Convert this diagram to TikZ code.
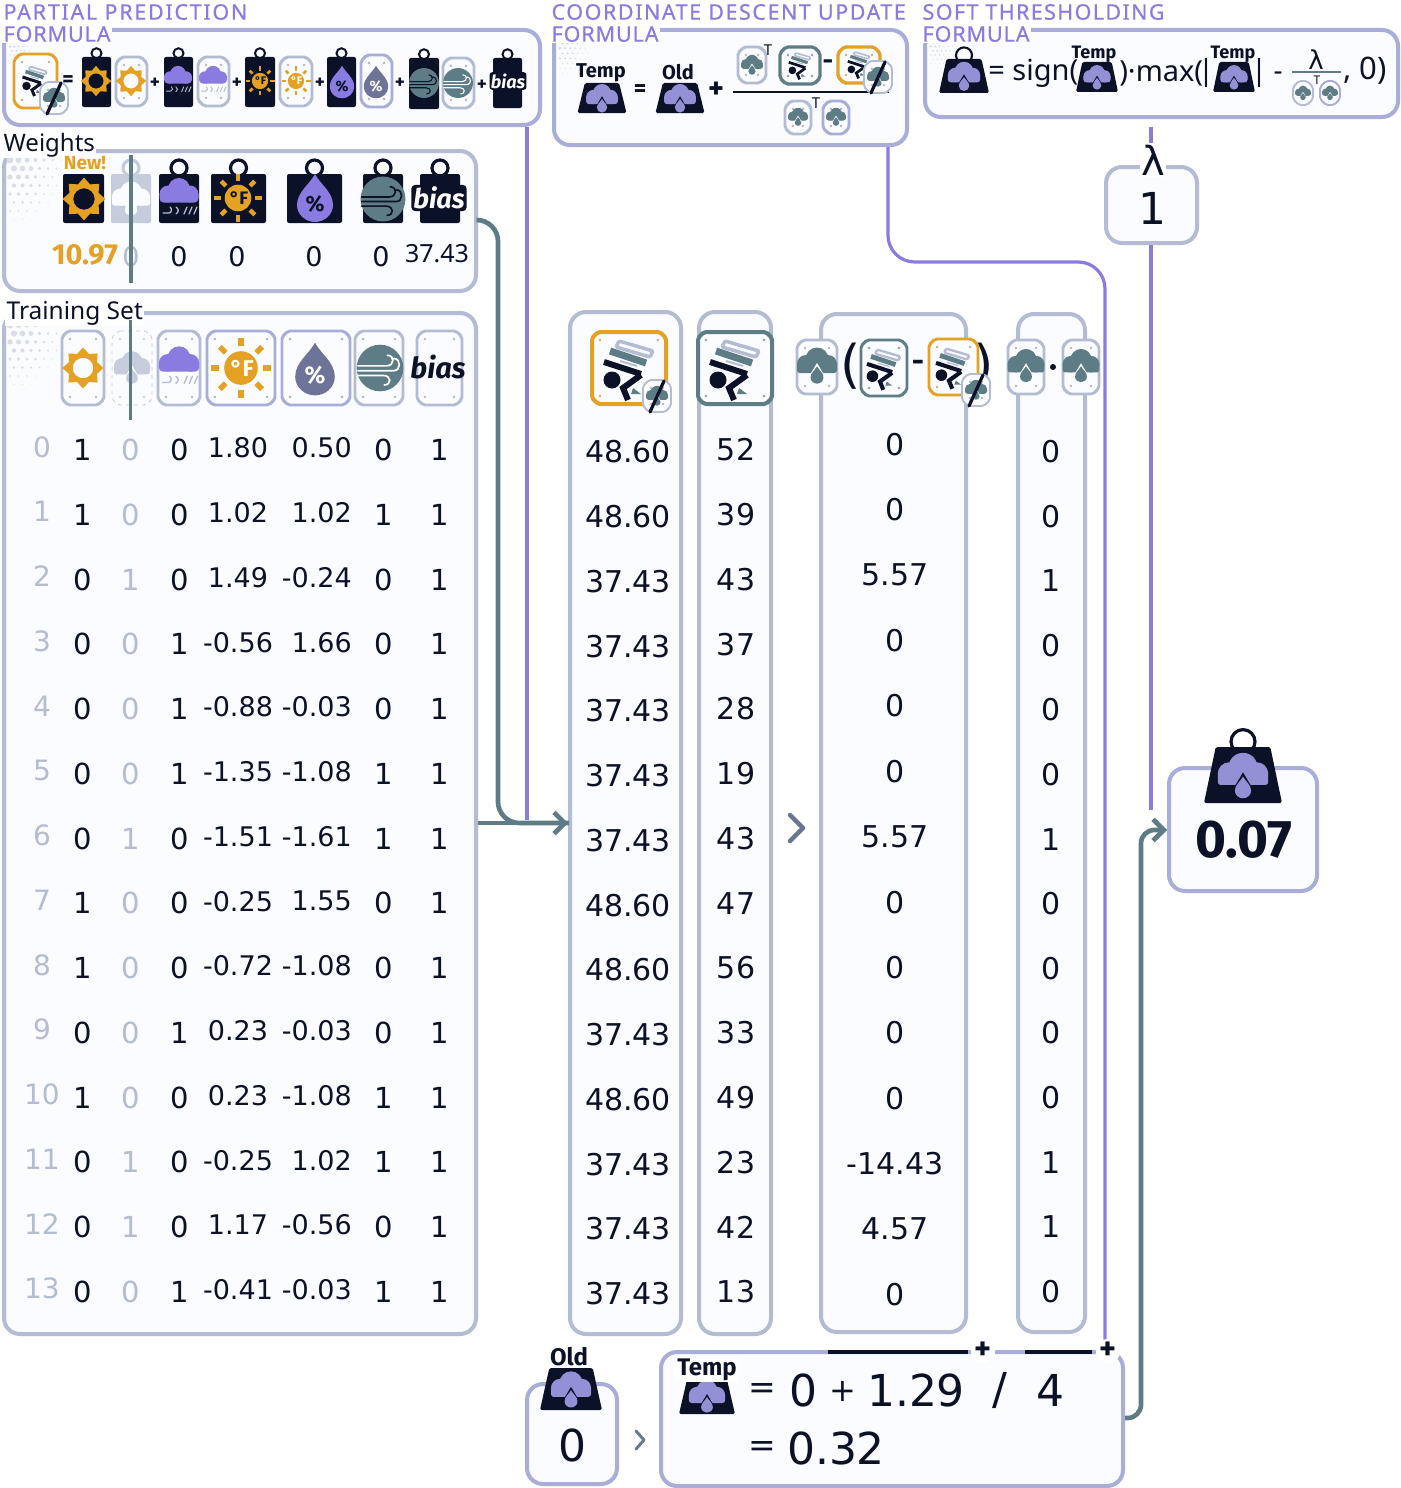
\documentclass[tikz,border=0pt]{standalone}
\usepackage{fontspec}
\setmainfont{Noto Sans}
\newfontfamily\numf{DejaVu Sans}
\newfontfamily\boldf{Fira Sans}
\newfontfamily\titlef[FakeBold=0.5]{Noto Sans}
\usetikzlibrary{arrows.meta}
\definecolor{ink}{HTML}{0B1126}
\definecolor{grey}{HTML}{B4BCD4}
\definecolor{pgrey}{HTML}{A8AED8}
\definecolor{purp}{HTML}{8A7BE0}
\definecolor{teal}{HTML}{5E7C85}
\definecolor{org}{HTML}{E5A124}
\definecolor{paper}{HTML}{FBFCFF}
\definecolor{slatep}{HTML}{6E7398}
\definecolor{faded}{HTML}{C7CCDC}
\definecolor{halft}{HTML}{DADEEA}
\definecolor{cloudc}{HTML}{9490D6}
\newcommand{\fs}[1]{\fontsize{\fpeval{#1*0.75}}{\fpeval{#1*0.9}}\selectfont}
\tikzset{
  x=0.75pt,y=-0.75pt,
  panelbox/.style={draw=#1,fill=paper,line width=3pt,rounded corners=12pt,inner sep=0pt},
  num/.style={font=\numf\fs{#1},text=ink,inner sep=0pt},
  lab/.style={font=\fs{#1},text=ink,inner sep=1pt},
  bld/.style={font=\boldf\bfseries\fs{#1},text=ink,inner sep=0pt},
  ttl/.style={font=\titlef\addfontfeature{LetterSpace=#1}\fs{21.5},text=purp,fill=white,inner sep=1pt,anchor=west},
  conP/.style={draw=purp,line width=2.4pt},
  conT/.style={draw=teal,line width=3.5pt,rounded corners=14pt},
  tipT/.style={-{Straight Barb[length=8pt,width=16pt,line width=3.5pt]}},
}
% panel as a named node given by its corners
\newcommand{\panel}[6]{\node[panelbox=#6,minimum width=\fpeval{(#4-#2)*0.75}pt,minimum height=\fpeval{(#5-#3)*0.75}pt] (#1) at ({(#2+#4)/2},{(#3+#5)/2}) {};}
% small shapes
\newcommand{\cardbox}[6][]{%
  \pgfmathsetmacro\ca{#2}\pgfmathsetmacro\cb{#3}\pgfmathsetmacro\cc{#4}\pgfmathsetmacro\cd{#5}%
  \fill[paper,draw=#6,line width=2.2pt,rounded corners=1.5pt,#1]
    (\ca+6,\cb)--(\cc-6,\cb)--(\cc,\cb+6)--(\cc,\cd-6)--(\cc-6,\cd)--(\ca+6,\cd)--(\ca,\cd-6)--(\ca,\cb+6)--cycle;
  \fill[#6!70!ink!60] (\ca+8,\cb+8) circle (1.1pt) (\cc-8,\cb+8) circle (1.1pt) (\ca+8,\cd-8) circle (1.1pt) (\cc-8,\cd-8) circle (1.1pt);
}
\newcommand{\tagbox}[6]{%
  \draw[#5,line width={#6*0.3pt}] ({(#1+#3)/2},{#2-#6*0.75}) circle ({#6*0.75pt});
  \fill[#5,rounded corners=1.5pt] (#1,#2) rectangle (#3,#4);
}
\newcommand{\icSun}[4]{\begin{scope}[shift={(#1,#2)},scale=#3]
  \fill[#4,even odd rule] (0:21)--(22.5:15.5)--(45:21)--(67.5:15.5)--(90:21)--(112.5:15.5)--(135:21)--(157.5:15.5)--(180:21)--(202.5:15.5)--(225:21)--(247.5:15.5)--(270:21)--(292.5:15.5)--(315:21)--(337.5:15.5)--cycle (0,0) circle (10.5);
\end{scope}}
\newcommand{\icRain}[5]{\begin{scope}[shift={(#1,#2)},scale=#3]
  \pgfmathsetmacro\sc{#3}
  \fill[#4] (-11,-5) circle (8.5) (0,-10) circle (11) (11,-5) circle (8.5);
  \fill[#4,rounded corners=3pt] (-19.5,-8) rectangle (19.5,3.5);
  \draw[#5,line width={1.3*\sc*0.75pt},line cap=round] (-16,14)--(-10,14) .. controls (-7,14) and (-7,9) .. (-9,8) (-3,8) .. controls (0,10) and (0,13) .. (-3,15) (5,15)--(8,8) (10,15)--(13,8) (15,15)--(18,8);
\end{scope}}
\newcommand{\icTemp}[5]{\begin{scope}[shift={(#1,#2)},scale=#3]
  \pgfmathsetmacro\sc{#3}
  \fill[#4] (0,0) circle (14);
  \foreach \an in {0,45,...,315}{\draw[#4,line width={4.5*\sc*0.75pt}] (\an:18)--(\an:25);}
  \node[font=\boldf\bfseries\fs{\fpeval{19*#3}},text=#5,inner sep=0pt] (tf) at (1,0) {°F};
\end{scope}}
\newcommand{\dropath}{(0,-24) .. controls (5,-14) and (18,-6) .. (18,7) .. controls (18,17) and (9,24) .. (0,24) .. controls (-9,24) and (-18,17) .. (-18,7) .. controls (-18,-6) and (-5,-14) .. (0,-24) -- cycle}
\newcommand{\icDrop}[5]{\begin{scope}[shift={(#1,#2)},scale=#3]
  \fill[#4] \dropath;
  \node[font=\boldf\bfseries\fs{\fpeval{22*#3}},text=#5,inner sep=0pt] (pc) at (0,6) {\%};
\end{scope}}
\newcommand{\icWind}[5]{\begin{scope}[shift={(#1,#2)},scale=#3]
  \pgfmathsetmacro\sc{#3}
  \fill[#4] (0,0) circle (22);
  \draw[#5,line width={1.6*\sc*0.75pt},line cap=round] (-21,-2)--(6,-2) .. controls (14,-2) and (14,-12) .. (7,-12) (-21,2.5)--(13,2.5) .. controls (20,2.5) and (20,-9) .. (13,-9) (-21,7)--(3,7) .. controls (11,7) and (11,16) .. (4,16);
\end{scope}}
\newcommand{\cloudfill}[1]{%
  \fill[#1] (-11,-2) circle (9) (0,-7) circle (11.5) (11,-2) circle (9);
  \fill[#1,rounded corners=2pt] (-20,-5) rectangle (20,7);
}
\newcommand{\icCloud}[4]{\begin{scope}[shift={(#1,#2)},scale=#3]
  \cloudfill{#4}
  \fill[white] (0,-3)--(6.5,8)--(-6.5,8)--cycle;
  \begin{scope}[shift={(0,9)},scale=0.36]\fill[#4] \dropath;\end{scope}
\end{scope}}
\newcommand{\icRobot}[3]{\begin{scope}[shift={(#1,#2)},scale=#3]
  \pgfmathsetmacro\sc{#3}
  \draw[grey,line width={3.5*\sc*0.75pt},rounded corners=1pt] (-10,-27)--(24,-17)--(21,-11)--(-13,-21)--cycle;
  \draw[teal,line width={7*\sc*0.75pt}] (-19,-17)--(17,-5);
  \draw[grey,line width={2*\sc*0.75pt}] (-9,-7)--(8,-2);
  \draw[ink,line width={6*\sc*0.75pt}] (-25,-6)--(12,6) (12,7)--(-6,20)--(-1,32);
  \fill[ink] (-17,12) circle (8.5);
  \fill[teal] (4,20)--(12,26)--(2,26)--cycle;
\end{scope}}
\newcommand{\slashcard}[2]{%
  \cardbox[line width=1.4pt]{#1-14}{#2-16}{#1+14}{#2+16}{grey}
  \icCloud{#1}{#2}{0.55}{teal}
  \draw[ink,line width=2.4pt,line cap=round] (#1+7,#2-15)--(#1-7,#2+16);
}
\newcommand{\wgt}[6]{% cx, top, width, height, ring radius, cloud colour
  \ifdim #5pt>0pt \draw[ink,line width={#5*0.2pt}] (#1,{#2-#5*0.45}) circle ({#5*0.75pt}); \fi
  \fill[ink,rounded corners=1.2pt] ({#1-#3*0.35},#2)--({#1+#3*0.35},#2)--({#1+#3*0.5},{#2+#4})--({#1-#3*0.5},{#2+#4})--cycle;
  \begin{scope}[shift={(#1,{#2+#4*0.52})},scale={#3/62}]
    \cloudfill{#6}
    \fill[ink] (0,-3)--(6.5,8)--(-6.5,8)--cycle;
    \begin{scope}[shift={(0,9)},scale=0.36]\fill[#6] \dropath;\end{scope}
  \end{scope}
}
\newcommand{\halftone}[3]{\begin{scope}[shift={(#1,#2)},scale=#3]
  \foreach \hi in {0,...,6}{\foreach \hj in {0,...,8}{
    \pgfmathsetmacro\hr{2.6*(1-sqrt(\hi*\hi*1.4+\hj*\hj*1.0)/8.5)}
    \ifdim \hr pt>0.3pt \fill[halft] ({\hi*8.5+mod(\hj,2)*4},{\hj*8.5}) circle ({\hr pt}); \fi
  }}
\end{scope}}
\newcommand{\biastxt}[6][]{\node[font=\boldf\bfseries\itshape\fs{#4},text=#5,inner sep=0pt,#1] (#6) at (#2,#3) {bias};}
\begin{document}
\begin{tikzpicture}
\useasboundingbox (0,0) rectangle (1400,1488);
\fill[white] (0,0) rectangle (1400,1488);
% ---------- panels
\panel{pred}{4}{30}{540}{125}{pgrey}
\panel{coord}{554}{30}{907}{145}{pgrey}
\panel{soft}{925}{30}{1398}{117}{pgrey}
\panel{weights}{4}{151}{476}{291}{grey}
\panel{train}{4}{313}{476}{1334}{grey}
\panel{lam}{1106}{167}{1197}{243}{grey}
\panel{col1}{570}{312}{681}{1334}{grey}
\panel{col2}{699}{312}{771}{1334}{grey}
\panel{col3}{821}{314}{966}{1332}{grey}
\panel{col4}{1018}{314}{1085}{1332}{grey}
\panel{result}{1169}{768}{1317}{891}{pgrey}
\panel{old}{527}{1384}{617}{1484}{pgrey}
\panel{tempbox}{661}{1352}{1123}{1486}{pgrey}
% ---------- halftone corners
\halftone{10}{38}{0.5}\halftone{10}{160}{1}\halftone{10}{325}{1}\halftone{560}{38}{0.6}\halftone{931}{38}{0.5}
% ---------- connectors
\coordinate (pe) at (527,820);
\coordinate (arrowin) at (569,823);
\coordinate (cdA) at (888,262);
\coordinate (cdB) at (1105,262);
\coordinate (cdC) at (1105,1345);
\coordinate (lamTop) at (1151,127);
\coordinate (lamEnd) at (1151,810);
\coordinate (wA) at (498,220);
\coordinate (wB) at (498,823);
\coordinate (tA) at (1141,1418);
\coordinate (tB) at (1141,830);
\draw[conP] (pred.south -| pe) -- (pe);
\draw[conP,rounded corners=20pt] (coord.south -| cdA) -- (cdA) -- (cdB) -- (cdC);
\draw[conP] (lamTop) -- (lam.north -| lamTop);
\draw[conP] (lam.south -| lamTop) -- (lamEnd);
\draw[conT,rounded corners=16pt] (weights.east |- wA) -- (wA) -- (wB) -- (arrowin);
\draw[conT,tipT,rounded corners=0pt] (train.east |- arrowin) -- (col1.west |- arrowin);
\draw[conT,tipT,rounded corners=10pt] (tempbox.east |- tA) -- (tA) -- (tB) -- (result.west |- tB);
% ---------- titles
\node[ttl=8] (t1a) at (2,12) {PARTIAL PREDICTION};
\node[ttl=4.2] (t1b) at (2,34) {FORMULA};
\node[ttl=7.2] (t2a) at (550,12) {COORDINATE DESCENT UPDATE};
\node[ttl=4.2] (t2b) at (550,34) {FORMULA};
\node[ttl=6.4] (t3a) at (921,12) {SOFT THRESHOLDING};
\node[ttl=4.2] (t3b) at (921,34) {FORMULA};
\node[lab=24,anchor=west,fill=white] (tw) at (2,145) {Weights};
\node[lab=24.5,anchor=west,fill=white] (tt) at (5,313) {Training Set};
% ---------- partial prediction row
\cardbox{14}{54}{57}{108}{org}
\icRobot{35}{80}{0.5}
\slashcard{54}{98}
\node[bld=22] (eq0) at (68,81) {=};
\tagbox{82}{57}{111}{107}{ink}{5}\icSun{96}{81}{0.72}{org}
\cardbox{116}{57}{147}{106}{grey}\icSun{131}{81}{0.72}{org}
\node[bld=19] (p1) at (155,83) {+};
\tagbox{164}{57}{193}{107}{ink}{5}\icRain{178}{81}{0.72}{purp}{grey}
\cardbox{198}{57}{229}{106}{grey}\icRain{213}{81}{0.72}{purp}{grey}
\node[bld=19] (p2) at (237,83) {+};
\tagbox{245}{57}{275}{107}{ink}{5}\icTemp{260}{81}{0.58}{org}{ink}
\cardbox{280}{57}{312}{106}{grey}\icTemp{296}{81}{0.58}{org}{white}
\node[bld=19] (p3) at (320,83) {+};
\tagbox{327}{57}{356}{107}{ink}{5}\icDrop{342}{82}{0.68}{purp}{ink}
\cardbox{361}{55}{392}{107}{pgrey}\icDrop{376}{82}{0.68}{slatep}{white}
\node[bld=19] (p4) at (400,83) {+};
\tagbox{409}{58}{439}{109}{ink}{5}\icWind{424}{83}{0.68}{teal}{ink}
\cardbox{443}{58}{474}{108}{grey}\icWind{458}{83}{0.68}{teal}{white}
\node[bld=19] (p5) at (482,85) {+};
\tagbox{493}{58}{522}{108}{ink}{5}\biastxt[fill=ink,inner sep=1pt,rounded corners=2pt]{508}{81}{18}{white}{bt0}
% ---------- weights
\tagbox{63}{174}{104}{223}{ink}{0}\icSun{84}{199}{1.02}{org}
\node[font=\boldf\bfseries\fs{19},text=org,inner sep=0pt] (nw) at (85,163) {New!};
\tagbox{111}{174}{151}{223}{faded}{8}\icCloud{131}{199}{0.95}{paper}
\tagbox{159}{174}{199}{223}{ink}{8}\icRain{179}{199}{1}{purp}{grey}
\tagbox{211}{174}{266}{223}{ink}{8}\icTemp{238}{198}{0.95}{org}{ink}
\tagbox{287}{174}{342}{223}{ink}{8}\icDrop{315}{198}{1}{purp}{ink}
\tagbox{363}{174}{403}{223}{ink}{8}\icWind{383}{199}{1.02}{teal}{ink}
\tagbox{420}{174}{460}{223}{ink}{8}\biastxt[fill=ink,inner sep=1.5pt,rounded corners=3pt]{439}{198}{27}{white}{bt1}
\node[font=\boldf\bfseries\fs{29},text=org,inner sep=0pt] (w0) at (85,255) {10.97};
\node[num=27,text=grey] (w1) at (131,257) {0};
\node[num=27] (w2) at (179,257) {0};
\node[num=27] (w3) at (237,257) {0};
\node[num=27] (w4) at (314,257) {0};
\node[num=27] (w5) at (381,257) {0};
\node[font=\fs{25},text=ink,inner sep=0pt] (w6) at (437,254) {37.43};
\draw[teal,line width=2.6pt] (weights.north -| w1) ++(0,6) -- ++(0,128);
% ---------- training header
\cardbox{62}{331}{104}{405}{grey}\icSun{83}{368}{0.98}{org}
\cardbox[draw=faded,line width=0.6pt,dashed]{112}{331}{152}{405}{paper}\icCloud{132}{368}{0.9}{faded}
\cardbox{158}{331}{200}{405}{grey}\icRain{179}{368}{1.03}{purp}{grey}
\cardbox{207}{331}{275}{405}{pgrey}\icTemp{241}{368}{1.2}{org}{white}
\cardbox{282}{331}{350}{405}{pgrey}\icDrop{315}{369}{1.1}{slatep}{white}
\cardbox{355}{331}{403}{405}{grey}\icWind{380}{368}{1.06}{teal}{white}
\cardbox{417}{331}{462}{405}{grey}\biastxt{438}{367}{29}{ink}{bt2}
\coordinate (xbar) at (130.5,320);
\coordinate (xbarend) at (130.5,420);
\draw[teal,line width=2.6pt] (xbar) -- (xbarend);
% ---------- training rows
\foreach \va/\vb/\vc/\vt/\vh/\vw [count=\rw from 0] in {
 1/0/0/1.80/0.50/0, 1/0/0/1.02/1.02/1, 0/1/0/1.49/-0.24/0, 0/0/1/-0.56/1.66/0,
 0/0/1/-0.88/-0.03/0, 0/0/1/-1.35/-1.08/1, 0/1/0/-1.51/-1.61/1, 1/0/0/-0.25/1.55/0,
 1/0/0/-0.72/-1.08/0, 0/0/1/0.23/-0.03/0, 1/0/0/0.23/-1.08/1, 0/1/0/-0.25/1.02/1,
 0/1/0/1.17/-0.56/0, 0/0/1/-0.41/-0.03/1}{
  \pgfmathsetmacro\yy{450+64.75*\rw}
  \node[num=28,text=grey] (id\rw) at (42,\yy-3) {\rw};
  \node[num=29] (a\rw) at (83,\yy) {\va};
  \node[num=29,text=grey] (b\rw) at (131,\yy) {\vb};
  \node[num=29] (c\rw) at (180,\yy) {\vc};
  \node[num=27] (t\rw) at (238,\yy-2) {\vt};
  \node[num=27,anchor=east] (h\rw) at (352,\yy-2) {\vh};
  \node[num=29] (w\rw) at (384,\yy) {\vw};
  \node[num=29] (i\rw) at (440,\yy) {1};
}
% ---------- columns
\foreach \vp/\vy/\vr/\vs [count=\rw from 0] in {
 48.60/52/0/0, 48.60/39/0/0, 37.43/43/5.57/1, 37.43/37/0/0, 37.43/28/0/0, 37.43/19/0/0, 37.43/43/5.57/1,
 48.60/47/0/0, 48.60/56/0/0, 37.43/33/0/0, 48.60/49/0/0, 37.43/23/-14.43/1, 37.43/42/4.57/1, 37.43/13/0/0}{
  \node[num=30] (q\rw) at (628,{452+64.75*\rw}) {\vp};
  \node[num=30] (r\rw) at (736,{450+64.75*\rw}) {\vy};
  \node[num=30] (s\rw) at (895,{444.5+65.38*\rw}) {\vr};
  \node[num=30] (u\rw) at (1051,{451.5+64.6*\rw}) {\vs};
}
% column headers
\cardbox[line width=3pt]{592}{332}{666}{404}{org}\icRobot{629}{368}{1}
\slashcard{657}{396}
\cardbox[line width=3pt]{698}{332}{772}{404}{teal}\icRobot{735}{368}{1}
\cardbox{797}{340}{837}{394}{grey}\icCloud{817}{366}{1}{teal}
\node[font=\numf\fs{52},text=ink,inner sep=0pt] (lp) at (851,366) {(};
\cardbox{861}{340}{907}{396}{teal}\icRobot{884}{368}{0.68}
\node[bld=30] (mn) at (918,366) {-};
\node[font=\numf\fs{52},text=ink,inner sep=0pt] (rp) at (984,366) {)};
\cardbox{929}{339}{978}{395}{org}\icRobot{953}{367}{0.68}
\slashcard{976}{390}
\cardbox{1008}{340}{1044}{394}{grey}\icCloud{1026}{366}{0.92}{teal}
\fill[ink] (1053,367) circle (3);
\cardbox{1063}{340}{1099}{394}{grey}\icCloud{1081}{366}{0.92}{teal}
\draw[line width=3.4pt,draw=slatep!70!teal,line cap=round,line join=round] (790,815)--(803,828)--(790,841);
% ---------- coordinate descent panel
\node[bld=20] (lTemp) at (601,73) {Temp};
\wgt{602}{83}{49}{30}{0}{cloudc}
\node[bld=24] (e2) at (640,91) {=};
\node[bld=20] (lOld) at (678,72) {Old};
\wgt{680}{83}{49}{30}{0}{cloudc}
\node[bld=30] (p6) at (716,90) {+};
\coordinate (fa) at (733,92);\coordinate (fb) at (889,92);
\draw[ink,line width=2pt] (fa)--(fb);
\cardbox{738}{47}{766}{83}{grey}\icCloud{752}{65}{0.55}{teal}
\node[font=\fs{15},text=ink,inner sep=0pt] (T1) at (768,50) {T};
\cardbox[line width=2.4pt]{780}{47}{820}{84}{teal}\icRobot{800}{65}{0.45}
\node[bld=26] (m2) at (828,65) {-};
\cardbox[line width=2.6pt]{838}{47}{880}{83}{org}\icRobot{859}{64}{0.45}
\slashcard{878}{77}
\cardbox{785}{101}{811}{134}{grey}\icCloud{798}{117}{0.5}{teal}
\node[font=\fs{15},text=ink,inner sep=0pt] (T2) at (816,103) {T};
\cardbox{823}{101}{849}{134}{pgrey}\icCloud{836}{117}{0.5}{teal}
% ---------- soft threshold panel
\wgt{964}{59}{50}{34}{8}{cloudc}
\node[font=\fs{29},text=ink,inner sep=0pt,anchor=west] (s1) at (988,73) {= sign(};
\wgt{1097}{62}{42}{30}{0}{cloudc}
\node[bld=18] (lT1) at (1094,54) {Temp};
\node[font=\fs{29},text=ink,inner sep=0pt,anchor=west] (s2) at (1119,73) {)·max(};
\node[font=\fs{29},text=ink,inner sep=0pt] (s2b) at (1206,73) {|};
\wgt{1234}{62}{42}{30}{0}{cloudc}
\node[bld=18] (lT2) at (1233,54) {Temp};
\node[font=\fs{29},text=ink,inner sep=0pt] (s3) at (1259,73) {|};
\node[font=\fs{28},text=ink,inner sep=0pt] (s4) at (1278,76) {-};
\node[font=\numf\fs{26},text=ink,inner sep=0pt] (s5) at (1316,60) {λ};
\coordinate (ga) at (1292,72);\coordinate (gb) at (1341,72);
\draw[teal,line width=1.8pt] (ga)--(gb);
\cardbox[line width=1.4pt]{1293}{81}{1313}{105}{grey}\icCloud{1303}{93}{0.4}{teal}
\cardbox[line width=1.4pt]{1320}{81}{1340}{105}{pgrey}\icCloud{1330}{93}{0.4}{teal}
\node[font=\fs{12},text=ink,inner sep=0pt] (T3) at (1317,80) {T};
\node[font=\fs{31},text=ink,inner sep=0pt,anchor=west] (s6) at (1343,71) {, 0)};
% ---------- lambda
\node[font=\numf\fs{40},text=ink,fill=white,inner sep=1pt] (lamT) at (1153,160) {λ};
\node[num=44] (lamV) at (1152,208) {1};
% ---------- result
\wgt{1243}{747}{78}{56}{12}{cloudc}
\node[bld=53] (res) at (1244,840) {0.07};
% ---------- old
\wgt{571}{1368}{62}{42}{0}{cloudc}
\node[font=\boldf\bfseries\fs{24},text=ink,fill=white,inner sep=1pt] (lO) at (569,1357) {Old};
\node[num=44] (oldV) at (572,1445) {0};
\draw[slatep!70!teal,line width=2.2pt,line cap=round,line join=round] (636,1431)--(644,1440)--(636,1449);
% ---------- temp
\coordinate (ba) at (828,1352);\coordinate (bb) at (968,1352);\coordinate (bc) at (1025,1352);\coordinate (bd) at (1092,1352);
\draw[ink,line width=2.6pt] (ba)--(bb) (bc)--(bd);
\node[font=\boldf\bfseries\fs{32},text=ink,fill=white,circle,inner sep=0pt] (pa) at (983,1351) {+};
\node[font=\boldf\bfseries\fs{32},text=ink,fill=white,circle,inner sep=0pt] (pb) at (1108,1351) {+};
\wgt{707}{1378}{56}{36}{0}{cloudc}
\node[font=\boldf\bfseries\fs{24},text=ink,inner sep=1pt,fill=white] (lTp) at (707,1370) {Temp};
\node[num=33] (e3) at (762,1391) {=};
\node[num=44] (n0) at (803,1390) {0};
\node[num=32] (n1) at (843,1391) {+};
\node[num=44] (n2) at (916,1390) {1.29};
\node[num=44] (n3) at (1000,1390) {/};
\node[num=44] (n4) at (1050,1390) {4};
\node[num=33] (e4) at (762,1449) {=};
\node[num=44] (n5) at (836,1448) {0.32};
\end{tikzpicture}
\end{document}
